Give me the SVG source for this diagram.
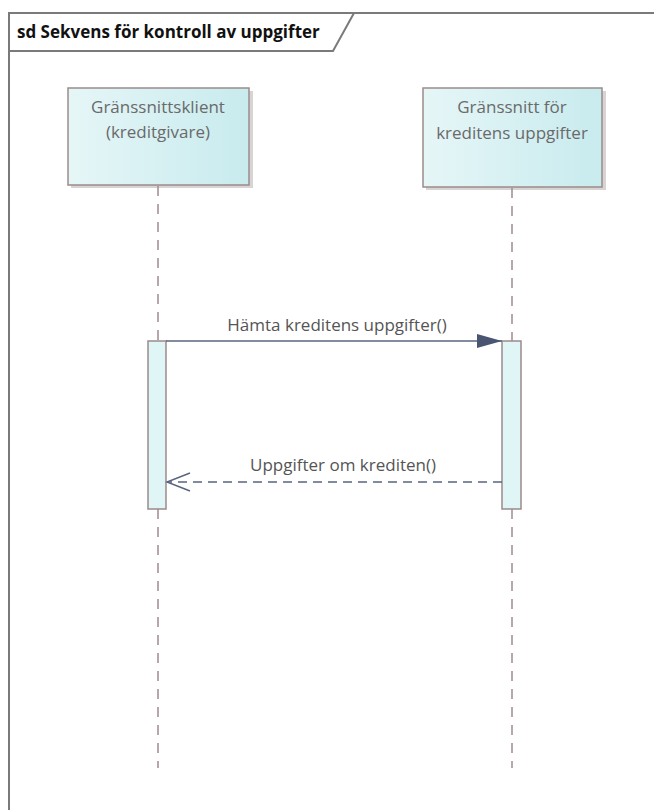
<svg xmlns="http://www.w3.org/2000/svg" width="654" height="810" viewBox="0 0 654 810">
<style>
.frame{fill:none;stroke:#7a7a7a;stroke-width:2}
.box{stroke:#9c8a8a;stroke-width:1.5}
.shadow{fill:#d8d4d4}
.lbl{font-family:"Open Sans","Liberation Sans",sans-serif;font-size:17px;fill:#6a6a6a;text-anchor:middle}
.title{font-family:"Open Sans","Liberation Sans",sans-serif;font-size:17px;font-weight:bold;fill:#111}
.life{stroke:#a08a8e;stroke-width:1.5;stroke-dasharray:10 8;fill:none}
.act{fill:#e0f5f6;stroke:#9c8a8a;stroke-width:1.5}
.msg{stroke:#5a6480;stroke-width:1.5;fill:none}
.mlbl{font-family:"Open Sans","Liberation Sans",sans-serif;font-size:17px;fill:#555;text-anchor:middle}
</style>
<defs>
<linearGradient id="g" x1="0" y1="0" x2="1" y2="0">
<stop offset="0" stop-color="#e6f6f7"/>
<stop offset="1" stop-color="#c8ebee"/>
</linearGradient>
<marker id="filled" markerWidth="26" markerHeight="16" refX="25" refY="8" orient="auto" markerUnits="userSpaceOnUse">
<path d="M0,1 L25,8 L0,15 Z" fill="#4a5572"/>
</marker>
<marker id="open" markerWidth="26" markerHeight="20" refX="24" refY="10" orient="auto" markerUnits="userSpaceOnUse">
<path d="M1,1 L24,10 L1,19" fill="none" stroke="#5a6480" stroke-width="1.5"/>
</marker>
</defs>
<rect width="654" height="810" fill="#fff"/>
<g id="frame">
<path class="frame" d="M9,810 L9,13 L660,13"/>
<path class="frame" d="M9,51 L333,51 L354,13"/>
<text class="title" x="17" y="38">sd Sekvens för kontroll av uppgifter</text>
</g>
<g id="client">
<rect class="shadow" x="71" y="91" width="182" height="97"/>
<rect class="box" x="68" y="88" width="181" height="97" fill="url(#g)"/>
<text class="lbl" x="158" y="113">Gränssnittsklient</text>
<text class="lbl" x="158" y="138">(kreditgivare)</text>
</g>
<g id="server">
<rect class="shadow" x="426" y="91" width="180" height="99"/>
<rect class="box" x="423" y="88" width="179" height="99" fill="url(#g)"/>
<text class="lbl" x="512" y="113">Gränssnitt för</text>
<text class="lbl" x="512" y="139">kreditens uppgifter</text>
</g>
<g id="act-client">
<rect class="act" x="148" y="341" width="18" height="168"/>
</g>
<g id="act-server">
<rect class="act" x="502" y="341" width="19" height="168"/>
</g>
<g id="connectors">
<line class="life" x1="158" y1="186" x2="158" y2="341"/>
<line class="life" x1="158" y1="509" x2="158" y2="768"/>
<line class="life" x1="512" y1="188" x2="512" y2="341"/>
<line class="life" x1="512" y1="509" x2="512" y2="768"/>
<line class="msg" x1="166" y1="341" x2="502" y2="341" marker-end="url(#filled)"/>
<text class="mlbl" x="337" y="331">Hämta kreditens uppgifter()</text>
<line class="msg" x1="502" y1="482" x2="167" y2="482" stroke-dasharray="9 6" marker-end="url(#open)"/>
<text class="mlbl" x="343" y="471">Uppgifter om krediten()</text>
</g>
</svg>
